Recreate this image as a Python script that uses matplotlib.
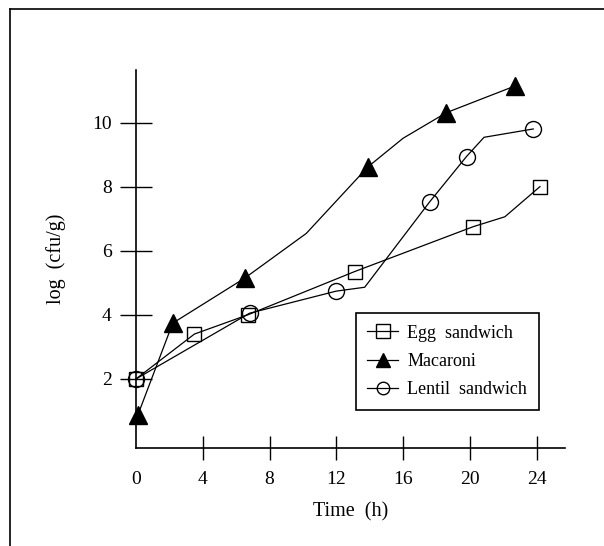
import numpy as np
import matplotlib
matplotlib.use('Agg')
import matplotlib.pyplot as plt
from matplotlib.lines import Line2D

plt.rcParams['font.family'] = ['Liberation Serif', 'DejaVu Serif']

# marker positions
egg_t = [0.0, 3.5, 6.7, 13.1, 20.2, 24.2]
egg_log = [2.0, 3.4, 4.0, 5.35, 6.75, 8.0]
mac_t = [0.1, 2.2, 6.5, 13.9, 18.6, 22.7]
mac_log = [0.86, 3.74, 5.14, 8.62, 10.31, 11.14]
len_t = [0.0, 6.8, 12.0, 17.6, 19.8, 23.8]
len_log = [2.0, 4.05, 4.74, 7.53, 8.94, 9.80]

# the hand drawn lines bend between markers too
egg_line_t = [0.0, 3.5, 6.7, 13.1, 20.2, 22.1, 24.2]
egg_line_log = [2.0, 3.4, 4.0, 5.35, 6.75, 7.06, 8.0]
mac_line_t = [0.1, 2.2, 6.5, 10.2, 13.9, 16.0, 18.6, 22.7]
mac_line_log = [0.86, 3.74, 5.14, 6.54, 8.62, 9.51, 10.31, 11.14]
len_line_t = [0.0, 6.8, 12.0, 13.7, 17.6, 19.8, 20.85, 23.8]
len_line_log = [2.0, 4.05, 4.74, 4.86, 7.53, 8.94, 9.54, 9.80]

labels = ['Egg  sandwich', 'Macaroni', 'Lentil  sandwich']
x_ticks = [0, 4, 8, 12, 16, 20, 24]
y_ticks = [2, 4, 6, 8, 10]


def main():
    fig = plt.figure(figsize=(6.04, 5.46), dpi=100)
    ax = fig.add_axes([0.2252, 0.1795, 0.9354 - 0.2252, 0.8718 - 0.1795])

    lw = 0.9
    ax.plot(egg_line_t, egg_line_log, color='black', linewidth=lw, clip_on=False)
    ax.plot(mac_line_t, mac_line_log, color='black', linewidth=lw, clip_on=False)
    ax.plot(len_line_t, len_line_log, color='black', linewidth=lw, clip_on=False)

    ax.plot(egg_t, egg_log, linestyle='none', marker='s', markersize=10,
            markerfacecolor='none', markeredgecolor='black', markeredgewidth=1.0, clip_on=False)
    ax.plot(mac_t, mac_log, linestyle='none', marker='^', markersize=13.5,
            color='black', clip_on=False)
    ax.plot(len_t, len_log, linestyle='none', marker='o', markersize=11.5,
            markerfacecolor='none', markeredgecolor='black', markeredgewidth=1.0, clip_on=False)

    ax.set_xlim(0, 25.7)
    ax.set_ylim(-0.156, 11.64)
    for side in ['top', 'right']:
        ax.spines[side].set_visible(False)
    for side in ['left', 'bottom']:
        ax.spines[side].set_linewidth(1.2)

    ax.set_xticks(x_ticks)
    ax.set_yticks(y_ticks)
    ax.tick_params(axis='x', direction='inout', length=17, width=1.0, pad=8, labelsize=14)
    ax.tick_params(axis='y', direction='inout', length=23, width=1.0, pad=6, labelsize=14)
    ax.xaxis.get_major_ticks()[0].tick1line.set_visible(False)

    ax.set_xlabel('Time  (h)', fontsize=14.5, labelpad=10)
    ax.set_ylabel('log  (cfu/g)', fontsize=14.5, labelpad=19)

    handles = [
        Line2D([], [], color='black', linewidth=lw, marker='s', markersize=10.5,
               markerfacecolor='none', markeredgecolor='black'),
        Line2D([], [], color='black', linewidth=lw, marker='^', markersize=10),
        Line2D([], [], color='black', linewidth=lw, marker='o', markersize=9,
               markerfacecolor='none', markeredgecolor='black'),
    ]
    leg = fig.legend(handles, labels, loc='upper left', bbox_to_anchor=(0.589, 0.4267),
                     fontsize=13, frameon=True, fancybox=False, framealpha=1,
                     edgecolor='black', handlelength=1.7, handletextpad=0.5,
                     labelspacing=0.62, borderpad=0.65, borderaxespad=0)
    leg.get_frame().set_linewidth(1.2)

    # outer frame of the scanned figure (top and left edges only)
    fig.add_artist(Line2D([10 / 604, 1.0], [1 - 9 / 546, 1 - 9 / 546],
                          transform=fig.transFigure, color='black', linewidth=1.2))
    fig.add_artist(Line2D([10 / 604, 10 / 604], [0.0, 1 - 9 / 546],
                          transform=fig.transFigure, color='black', linewidth=1.2))

    fig.savefig('out.png', dpi=100)


if __name__ == "__main__":
    main()
